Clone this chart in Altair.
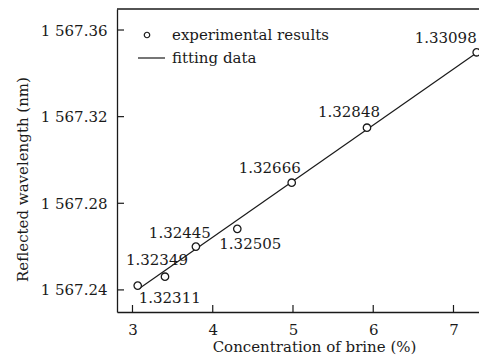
import altair as alt
import pandas as pd

# data
conc = [3.065, 3.405, 3.79, 4.306, 4.984, 5.922, 7.289]
wavelength = [1567.2420, 1567.2461, 1567.2600, 1567.2682, 1567.2895, 1567.3149, 1567.3497]
ri_labels = ["1.32311", "1.32349", "1.32445", "1.32505", "1.32666", "1.32848", "1.33098"]
fit_x = [3.08, 7.29]
fit_y = [1567.2405, 1567.3495]
x_ticks = [3, 4, 5, 6, 7]
y_ticks = [1567.24, 1567.28, 1567.32, 1567.36]
legend_labels = ["experimental results", "fitting data"]

# label offsets (style, pixels)
label_offsets = [(32, 12), (-8, -17), (-16, -14), (13, 15), (-22, -15), (-18, -16), (-31, -14)]

FONT = "DejaVu Serif"
INK = "#1a1a1a"
W, H = 362, 303

pts = pd.DataFrame({"c": conc, "w": wavelength, "lab": ri_labels})
fit = pd.DataFrame({"c": fit_x, "w": fit_y})

xs = alt.Scale(domain=[2.807, 2.807 + W / 80.25], nice=False, zero=False)
ys = alt.Scale(domain=[1567.2298, 1567.3697], nice=False, zero=False)

xax = alt.Axis(values=x_ticks, format="d", ticks=False, tickSize=0, grid=False,
               domain=True, domainColor=INK, domainWidth=1.3,
               labelPadding=10, labelFontSize=15, labelFont=FONT, labelColor=INK,
               title="Concentration of brine (%)", titleFont=FONT, titleFontSize=15,
               titleFontWeight="normal", titleColor=INK, titleX=197, titleY=34,
               titleAlign="center", titleBaseline="middle")
yax = alt.Axis(values=y_ticks, ticks=False, tickSize=0, grid=False,
               domain=True, domainColor=INK, domainWidth=1.3,
               labelPadding=10, labelFontSize=15, labelFont=FONT, labelColor=INK,
               labelExpr="'1 ' + format(datum.value - 1000, '.2f')",
               title="Reflected wavelength (nm)", titleFont=FONT, titleFontSize=15,
               titleFontWeight="normal", titleColor=INK, titleAngle=270,
               titleX=-95, titleY=170, titleAlign="center", titleBaseline="middle")

line = alt.Chart(fit).mark_line(color=INK, strokeWidth=1.2).encode(
    x=alt.X("c:Q", scale=xs, axis=xax),
    y=alt.Y("w:Q", scale=ys, axis=yax),
)
points = alt.Chart(pts).mark_point(shape="circle", size=55, filled=True, fill="white",
                                   stroke=INK, strokeWidth=1.3, opacity=1).encode(
    x=alt.X("c:Q", scale=xs), y=alt.Y("w:Q", scale=ys))

text_layers = []
for lab, (dx, dy) in zip(ri_labels, label_offsets):
    text_layers.append(
        alt.Chart(pts).transform_filter(alt.datum.lab == lab).mark_text(
            font=FONT, fontSize=15, color=INK, dx=dx, dy=dy, align="center", baseline="middle"
        ).encode(x=alt.X("c:Q", scale=xs), y=alt.Y("w:Q", scale=ys), text="lab:N")
    )

xt = pd.DataFrame({"v": x_ticks})
yt = pd.DataFrame({"v": y_ticks})
xtick = alt.Chart(xt).mark_rule(color=INK, strokeWidth=1.2).encode(
    x=alt.X("v:Q", scale=xs), y=alt.value(H), y2=alt.value(H - 7))
ytick = alt.Chart(yt).mark_rule(color=INK, strokeWidth=1.2).encode(
    y=alt.Y("v:Q", scale=ys), x=alt.value(0), x2=alt.value(7))
# top frame line (the reference is cropped on the right, so no right border)
top_frame = alt.Chart(xt).transform_filter(alt.datum.v == x_ticks[0]).mark_rule(
    color=INK, strokeWidth=1.3).encode(x=alt.value(0), x2=alt.value(W), y=alt.value(0))

leg = pd.DataFrame({"t": legend_labels})
leg_pt = alt.Chart(leg).transform_filter(alt.datum.t == legend_labels[0]).mark_point(
    shape="circle", size=30, filled=True, fill="white", stroke=INK, strokeWidth=1.2, opacity=1
).encode(x=alt.value(30), y=alt.value(26))
leg_ln = alt.Chart(leg).transform_filter(alt.datum.t == legend_labels[1]).mark_rule(
    color=INK, strokeWidth=1.2).encode(x=alt.value(21), x2=alt.value(48), y=alt.value(49))
leg_t1 = alt.Chart(leg).transform_filter(alt.datum.t == legend_labels[0]).mark_text(
    font=FONT, fontSize=15, color=INK, align="left", baseline="middle"
).encode(x=alt.value(55), y=alt.value(26), text="t:N")
leg_t2 = alt.Chart(leg).transform_filter(alt.datum.t == legend_labels[1]).mark_text(
    font=FONT, fontSize=15, color=INK, align="left", baseline="middle"
).encode(x=alt.value(55), y=alt.value(49), text="t:N")

chart = alt.layer(line, points, *text_layers, xtick, ytick, top_frame,
                  leg_pt, leg_ln, leg_t1, leg_t2).properties(
    width=W, height=H,
    autosize=alt.AutoSizeParams(type="none"),
    padding={"left": 109, "top": 1, "right": 0, "bottom": 44},
    background="white",
).configure_view(strokeWidth=0)

chart.save("out.html", embed_options={"renderer": "svg", "actions": False})
